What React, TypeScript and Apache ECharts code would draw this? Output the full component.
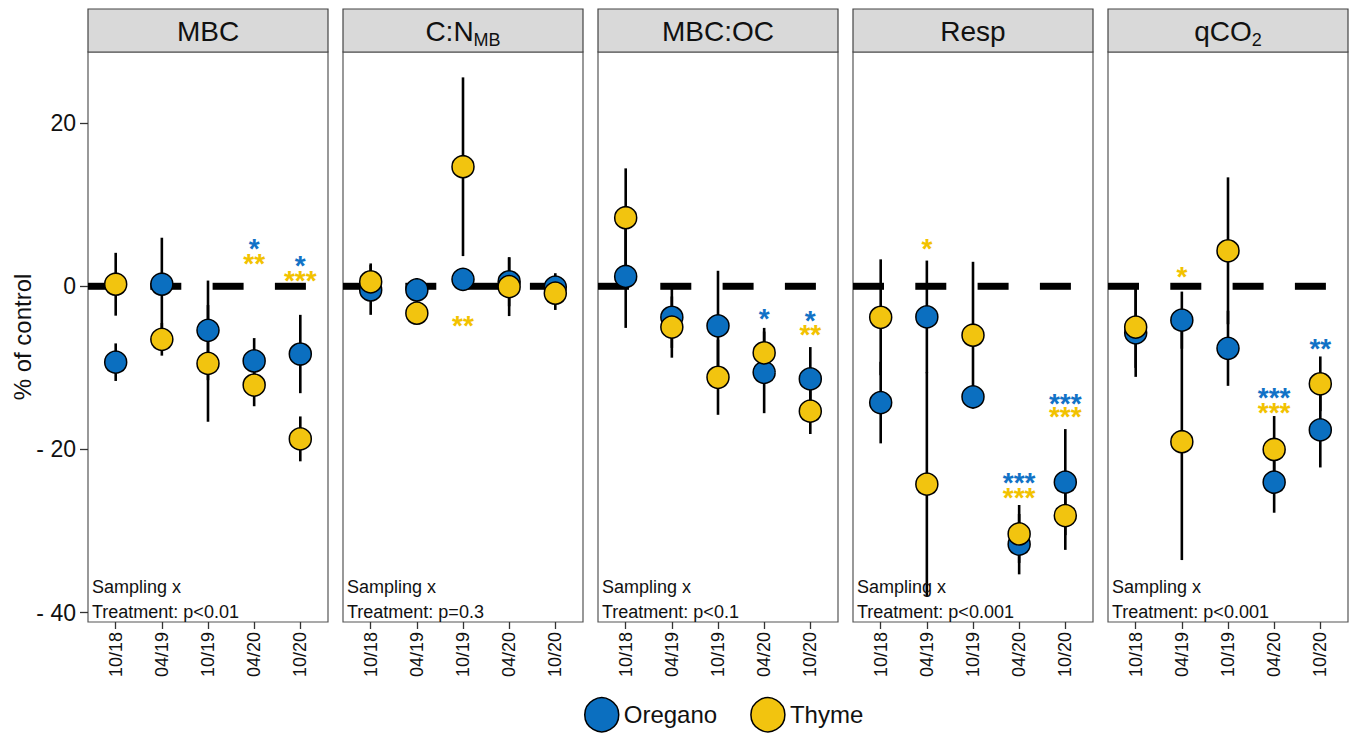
import React, { useEffect, useRef } from "react";
import * as echarts from "echarts";

// ---------- DATA ----------
const dates = ["10/18", "04/19", "10/19", "04/20", "10/20"];
const panelTitles = ["{t|MBC}", "{t|C:N}{s|MB}", "{t|MBC:OC}", "{t|Resp}", "{t|qCO}{s|2}"];
const pValues = ["p<0.01", "p=0.3", "p<0.1", "p<0.001", "p<0.001"];

// MBC
const mbcOregano = [-9.3, 0.25, -5.4, -9.15, -8.3];
const mbcOreganoErr = [2.3, 5.7, 6.1, 2.8, 4.8];
const mbcThyme = [0.25, -6.5, -9.45, -12.1, -18.7];
const mbcThymeErr = [3.85, 2.0, 7.15, 2.6, 2.75];
const mbcOreganoStars = ["", "", "", "*", "*"];
const mbcOreganoStarY = [0, 0, 0, 5.2, 3.1];
const mbcThymeStars = ["", "", "", "**", "***"];
const mbcThymeStarY = [0, 0, 0, 3.4, 1.3];

// C:N MB
const cnOregano = [-0.45, -0.45, 0.85, 0.55, -0.1];
const cnOreganoErr = [3.05, 1.45, 0.4, 3.0, 1.7];
const cnThyme = [0.55, -3.3, 14.65, -0.05, -0.85];
const cnThymeErr = [2.25, 0.4, 10.95, 3.6, 2.05];
const cnOreganoStars = ["", "", "", "", ""];
const cnOreganoStarY = [0, 0, 0, 0, 0];
const cnThymeStars = ["", "", "**", "", ""];
const cnThymeStarY = [0, 0, -4.2, 0, 0];

// MBC:OC
const ocOregano = [1.2, -3.8, -4.85, -10.55, -11.35];
const ocOreganoErr = [6.3, 3.75, 6.75, 5.0, 3.9];
const ocThyme = [8.4, -5.0, -11.15, -8.15, -15.3];
const ocThymeErr = [6.05, 3.75, 4.6, 3.05, 2.8];
const ocOreganoStars = ["", "", "", "*", "*"];
const ocOreganoStarY = [0, 0, 0, -3.3, -3.6];
const ocThymeStars = ["", "", "", "", "**"];
const ocThymeStarY = [0, 0, 0, 0, -5.3];

// Resp
const respOregano = [-14.25, -3.75, -13.55, -31.6, -24.0];
const respOreganoErr = [5.0, 6.9, 0.8, 3.7, 6.5];
const respThyme = [-3.8, -24.25, -6.0, -30.35, -28.1];
const respThymeErr = [7.1, 13.7, 9.0, 3.55, 4.2];
const respOreganoStars = ["", "", "", "***", "***"];
const respOreganoStarY = [0, 0, 0, -23.45, -13.75];
const respThymeStars = ["", "*", "", "***", "***"];
const respThymeStarY = [0, 5.25, 0, -25.3, -15.4];

// qCO2
const qOregano = [-5.7, -4.15, -7.6, -24.0, -17.6];
const qOreganoErr = [5.4, 3.5, 4.6, 3.75, 4.6];
const qThyme = [-5.0, -19.05, 4.35, -20.0, -11.95];
const qThymeErr = [5.0, 14.5, 9.0, 4.1, 3.35];
const qOreganoStars = ["", "", "", "***", "**"];
const qOreganoStarY = [0, 0, 0, -13.0, -7.0];
const qThymeStars = ["", "*", "", "***", ""];
const qThymeStarY = [0, 1.8, 0, -14.8, 0];

const yTicks = [-40, -20, 0, 20];
const xTicks = [1, 2, 3, 4, 5];
const referenceLevel = 0;

const panels = [
  { o: mbcOregano, oe: mbcOreganoErr, t: mbcThyme, te: mbcThymeErr, os: mbcOreganoStars, osy: mbcOreganoStarY, ts: mbcThymeStars, tsy: mbcThymeStarY },
  { o: cnOregano, oe: cnOreganoErr, t: cnThyme, te: cnThymeErr, os: cnOreganoStars, osy: cnOreganoStarY, ts: cnThymeStars, tsy: cnThymeStarY },
  { o: ocOregano, oe: ocOreganoErr, t: ocThyme, te: ocThymeErr, os: ocOreganoStars, osy: ocOreganoStarY, ts: ocThymeStars, tsy: ocThymeStarY },
  { o: respOregano, oe: respOreganoErr, t: respThyme, te: respThymeErr, os: respOreganoStars, osy: respOreganoStarY, ts: respThymeStars, tsy: respThymeStarY },
  { o: qOregano, oe: qOreganoErr, t: qThyme, te: qThymeErr, os: qOreganoStars, osy: qOreganoStarY, ts: qThymeStars, tsy: qThymeStarY },
];

// ---------- LAYOUT / STYLE ----------
const FONT = "'Liberation Sans', Arial, Helvetica, sans-serif";
const BLUE = "#0b6fc0";
const YELLOW = "#f2c40f";
const STAR_BLUE = "#1272c6";
const STAR_YELLOW = "#f2c200";
const PANEL_LEFT = 88;
const PANEL_STEP = 255;
const PANEL_W = 240;
const STRIP_TOP = 9;
const PLOT_TOP = 52;
const PLOT_BOTTOM = 622;
const Y_MIN = -41.14;
const Y_MAX = 28.71;
const X_MIN = 0.4;
const X_MAX = 5.6;
const DASH_ON = 31;
const DASH_OFF = 31.3;

function buildOption() {
  const grid: any[] = [];
  const xAxis: any[] = [];
  const yAxis: any[] = [];
  const series: any[] = [];
  const graphic: any[] = [];

  panels.forEach((p, i) => {
    const left = PANEL_LEFT + i * PANEL_STEP;
    grid.push({
      left, top: PLOT_TOP, width: PANEL_W, height: PLOT_BOTTOM - PLOT_TOP,
      show: true, borderColor: "#555", borderWidth: 1.2, backgroundColor: "#fff",
    });
    xAxis.push({
      type: "value", gridIndex: i, min: X_MIN, max: X_MAX,
      axisLine: { show: false, onZero: false }, splitLine: { show: false },
      axisTick: { show: true, length: 7, customValues: xTicks, lineStyle: { color: "#333", width: 1.3 } },
      axisLabel: {
        show: true, customValues: xTicks, rotate: 90, margin: 10,
        fontSize: 18, fontFamily: FONT, color: "#111",
        formatter: (v: number) => dates[Math.round(v) - 1] ?? "",
      },
    });
    yAxis.push({
      type: "value", gridIndex: i, min: Y_MIN, max: Y_MAX,
      axisLine: { show: false, onZero: false }, splitLine: { show: false },
      axisTick: { show: i === 0, length: 8, customValues: yTicks, lineStyle: { color: "#333", width: 1.3 } },
      axisLabel: {
        show: i === 0, customValues: yTicks, margin: 12,
        fontSize: 23, fontFamily: FONT, color: "#111",
        formatter: (v: number) => (v < 0 ? "- " + Math.abs(v) : String(v)),
      },
    });

    // zero dashed reference line: explicit dash segments across the panel
    series.push({
      type: "custom", xAxisIndex: i, yAxisIndex: i, silent: true, z: 1,
      data: [[X_MIN, X_MAX, referenceLevel]],
      encode: { x: [0, 1], y: 2 },
      renderItem: (params: any, api: any) => {
        const a = api.coord([api.value(0), api.value(2)]);
        const b = api.coord([api.value(1), api.value(2)]);
        const children: any[] = [];
        for (let s = a[0]; s < b[0]; s += DASH_ON + DASH_OFF) {
          const e = Math.min(s + DASH_ON, b[0]);
          children.push({
            type: "rect",
            shape: { x: s, y: a[1] - 3.5, width: e - s, height: 7 },
            style: { fill: "#000" },
          });
        }
        return { type: "group", children };
      },
    });

    // error bars
    const errData: number[][] = [];
    dates.forEach((_, k) => {
      errData.push([k + 1, p.o[k] - p.oe[k], p.o[k] + p.oe[k]]);
      errData.push([k + 1, p.t[k] - p.te[k], p.t[k] + p.te[k]]);
    });
    series.push({
      type: "custom", xAxisIndex: i, yAxisIndex: i, silent: true, z: 2,
      encode: { x: 0, y: [1, 2] },
      data: errData,
      renderItem: (params: any, api: any) => {
        const a = api.coord([api.value(0), api.value(1)]);
        const b = api.coord([api.value(0), api.value(2)]);
        return {
          type: "line",
          shape: { x1: a[0], y1: a[1], x2: b[0], y2: b[1] },
          style: { stroke: "#000", lineWidth: 2.6 },
        };
      },
    });

    series.push({
      type: "scatter", name: "Oregano", xAxisIndex: i, yAxisIndex: i, z: 3,
      symbol: "circle", symbolSize: 22,
      itemStyle: { color: BLUE, borderColor: "#000", borderWidth: 1.5, opacity: 1 },
      data: p.o.map((v, k) => [k + 1, v]),
    });
    series.push({
      type: "scatter", name: "Thyme", xAxisIndex: i, yAxisIndex: i, z: 4,
      symbol: "circle", symbolSize: 22,
      itemStyle: { color: YELLOW, borderColor: "#000", borderWidth: 1.5, opacity: 1 },
      data: p.t.map((v, k) => [k + 1, v]),
    });

    // significance asterisks
    [[p.os, p.osy, STAR_BLUE], [p.ts, p.tsy, STAR_YELLOW]].forEach(([stars, ys, color]: any, si) => {
      const idx: number[] = [];
      (stars as string[]).forEach((s, k) => { if (s) idx.push(k); });
      const data = idx.map((k) => [k + 1, ys[k]]);
      const texts = idx.map((k) => stars[k]);
      series.push({
        type: "custom", name: "signif" + si, xAxisIndex: i, yAxisIndex: i, z: 5, silent: true,
        encode: { x: 0, y: 1 },
        data,
        renderItem: (params: any, api: any) => {
          const c = api.coord([api.value(0), api.value(1)]);
          return {
            type: "text",
            x: c[0], y: c[1] + 5,
            style: {
              text: texts[params.dataIndex], fill: color, fontSize: 28, fontWeight: "bold",
              fontFamily: FONT, align: "center", verticalAlign: "middle",
            },
          };
        },
      });
    });

    // strip
    graphic.push({
      type: "rect", silent: true, z: 10,
      shape: { x: left, y: STRIP_TOP, width: PANEL_W, height: PLOT_TOP - STRIP_TOP },
      style: { fill: "#d9d9d9", stroke: "#444", lineWidth: 1.2 },
    });
    graphic.push({
      type: "text", silent: true, z: 11,
      x: left + PANEL_W / 2, y: (STRIP_TOP + PLOT_TOP) / 2 + 1,
      style: {
        text: panelTitles[i], align: "center", verticalAlign: "middle",
        fontFamily: FONT, fill: "#111",
        rich: {
          t: { fontSize: 28, lineHeight: 34, fontFamily: FONT, fill: "#111" },
          s: { fontSize: 18, lineHeight: 14, verticalAlign: "bottom", fontFamily: FONT, fill: "#111" },
        },
      },
    });
    graphic.push({
      type: "text", silent: true, z: 11,
      x: left + 4, y: 587,
      style: { text: "Sampling x", fontSize: 18, fontFamily: FONT, fill: "#111", align: "left", verticalAlign: "middle" },
    });
    graphic.push({
      type: "text", silent: true, z: 11,
      x: left + 4, y: 612,
      style: { text: "Treatment: " + pValues[i], fontSize: 18, fontFamily: FONT, fill: "#111", align: "left", verticalAlign: "middle" },
    });
  });

  graphic.push({
    type: "text", silent: true, z: 11,
    x: 22, y: (PLOT_TOP + PLOT_BOTTOM) / 2, rotation: Math.PI / 2,
    style: { text: "% of control", fontSize: 24, fontFamily: FONT, fill: "#111", align: "center", verticalAlign: "middle" },
  });

  return {
    animation: false,
    backgroundColor: "#fff",
    textStyle: { fontFamily: FONT },
    grid, xAxis, yAxis, series, graphic,
    legend: {
      data: ["Oregano", "Thyme"],
      left: 584, top: 697, padding: 0,
      icon: "circle", itemWidth: 34, itemHeight: 34, itemGap: 33,
      itemStyle: { borderColor: "#000", borderWidth: 1.5 },
      textStyle: { fontSize: 24, fontFamily: FONT, color: "#111" },
      selectedMode: false,
    },
  };
}

export default function App() {
  const ref = useRef<HTMLDivElement>(null);
  useEffect(() => {
    if (!ref.current) return;
    const chart = echarts.init(ref.current, undefined, { renderer: "svg" });
    chart.setOption(buildOption() as any);
    return () => chart.dispose();
  }, []);
  return (
    <div
      ref={ref}
      style={{ position: "fixed", left: 0, top: 0, width: 1354, height: 733, background: "#fff" }}
    />
  );
}
